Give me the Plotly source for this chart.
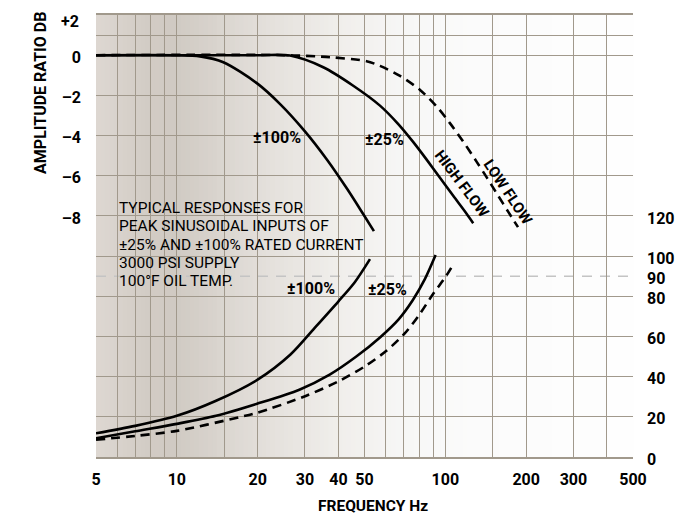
import plotly.graph_objects as go

# ------------------------------------------------------
# data (frequency in Hz)
# ------------------------------------------------------

# amplitude ratio, dB (left axis)
amp_100_freq = [5, 10, 12.2, 14.9, 19.8, 24.2, 30, 36.2, 43, 49.5, 54.2]
amp_100_db = [0, 0, -0.06, -0.35, -1.38, -2.42, -3.79, -5.19, -6.64, -7.92, -8.76]

amp_25_freq = [5, 20, 26.4, 35.1, 45.4, 57.1, 66.8, 76, 85.2, 95.5, 107, 120, 127]
amp_25_db = [0, 0, -0.02, -0.6, -1.52, -2.51, -3.43, -4.33, -5.2, -6.1, -7.0, -7.89, -8.36]

amp_low_freq = [5, 25, 37.2, 50.9, 57.1, 67.8, 80.5, 92.9, 104, 116.7, 130.9, 142.6, 157.4, 171.6, 186.5]
amp_low_db = [0, 0, -0.1, -0.3, -0.53, -1.03, -1.73, -2.56, -3.38, -4.31, -5.31, -6.08, -7.0, -7.8, -8.56]

# phase lag, degrees (right axis)
phase_100_freq = [5, 7, 10, 14, 20, 26.5, 33, 40, 46, 52.4]
phase_100_deg = [11.8, 15.5, 20.5, 28, 38.5, 51, 65, 77.5, 87, 98.5]

phase_25_freq = [5, 7, 10, 14, 19.9, 28.6, 37.1, 46.6, 57.1, 67, 75.6, 83.9, 92]
phase_25_deg = [9.3, 12.8, 16.5, 20.5, 26.5, 33.5, 41, 50, 59.5, 68.5, 78, 88.5, 100.5]

phase_low_freq = [5, 7, 10, 17.2, 19.9, 29.7, 39.8, 50, 60.5, 70.6, 79.7, 89.9, 100.6, 107.7]
phase_low_deg = [8.6, 10.5, 13, 19.9, 22, 30, 37.5, 45, 53, 61.5, 70.5, 81, 90, 96.5]

phase_ref = 90

# axis ticks
freq_ticks = [5, 6, 7, 8, 9, 10, 15, 20, 30, 40, 50, 60, 70, 80, 90, 100, 150, 200, 300, 400, 500]
freq_labels = ["5", "", "", "", "", "10", "", "20", "30", "40", "50", "", "", "", "", "100", "", "200", "300", "", "500"]
db_ticks = [2, 1, 0, -2, -4, -6, -8, -10, -12, -14, -16, -18]
db_labels = ["", "", "0", "–2", "–4", "–6", "–8", "", "", "", "", ""]
db_top, db_top_label = 2, "+2"   # top label sits on the plot edge, drawn as annotation
phase_ticks = [0, 20, 40, 60, 80, 90, 100, 120]
phase_labels = ["0", "20", "40", "60", "80", "90", "100", "120"]

# ------------------------------------------------------
# figure
# ------------------------------------------------------

FONT = "Roboto, Liberation Sans, sans-serif"
GRID = "#a1998c"
LW = 2.6
DASH = "9px,6px"

fig = go.Figure()

def curve(xs, ys, axis="y", dash=None):
    fig.add_trace(go.Scatter(x=xs, y=ys, yaxis=axis, mode="lines",
                             line=dict(color="black", width=LW, dash=dash, shape="spline", smoothing=0.8)))

curve(amp_100_freq, amp_100_db)
curve(amp_low_freq, amp_low_db, dash=DASH)
curve(amp_25_freq, amp_25_db)
curve(phase_100_freq, phase_100_deg, "y2")
curve(phase_25_freq, phase_25_deg, "y2")
curve(phase_low_freq, phase_low_deg, "y2", DASH)

# background fade, dark at the left to white at the right
stops = [(0.0, (221, 216, 210)), (0.1, (210, 203, 196)), (0.15, (208, 202, 195)),
         (0.3, (226, 222, 217)), (0.45, (240, 238, 235)), (0.58, (247, 247, 246)),
         (0.7, (251, 251, 251)), (1.0, (254, 254, 254))]
N = 120
shapes = []
for i in range(N):
    t = (i + 0.5) / N
    for (a, ca), (b, cb) in zip(stops[:-1], stops[1:]):
        if a <= t <= b:
            f = (t - a) / (b - a)
            c = [round(ca[k] + (cb[k] - ca[k]) * f) for k in range(3)]
            break
    shapes.append(dict(type="rect", xref="paper", yref="paper", x0=i / N, x1=(i + 1) / N + 0.002,
                       y0=0, y1=1, fillcolor="rgb(%d,%d,%d)" % tuple(c), line=dict(width=0), layer="below"))

shapes.append(dict(type="line", xref="paper", yref="y2", x0=0, x1=1, y0=phase_ref, y1=phase_ref,
                   line=dict(color="#c4c4c4", width=1.5, dash="10px,8px"), layer="below"))

ann = []
def txt(x, y, s, size=16, bold=True, angle=0, xanchor="center"):
    ann.append(dict(x=x, y=y, xref="x", yref="y", text=s, showarrow=False,
                    textangle=angle, xanchor=xanchor, yanchor="middle",
                    font=dict(family=FONT, size=size, color="black", weight=700 if bold else 400)))

txt(1.373, -4.1, "±100%")
txt(1.772, -4.2, "±25%")
txt(1.500, -11.6, "±100%")
txt(1.785, -11.65, "±25%")
txt(2.062, -6.42, "HIGH FLOW", size=15, angle=53)
txt(2.233, -6.8, "LOW FLOW", size=15, angle=56)

notes = ["TYPICAL RESPONSES FOR", "PEAK SINUSOIDAL INPUTS OF", "±25% AND ±100% RATED CURRENT",
         "3000 PSI SUPPLY", "100°F OIL TEMP."]
for i, s in enumerate(notes):
    txt(0.776, -7.61 - i * 0.91, s, size=15.5, bold=False, xanchor="left")

ann.append(dict(x=-0.028, y=db_top, xref="paper", yref="y", text=db_top_label, showarrow=False,
                xanchor="right", yanchor="middle", yshift=-6,
                font=dict(family=FONT, size=16, color="black", weight=700)))
ann.append(dict(x=-0.103, y=0.823, xref="paper", yref="paper", text="AMPLITUDE RATIO DB", showarrow=False,
                textangle=-90, xanchor="center", yanchor="middle",
                font=dict(family=FONT, size=16, color="black", weight=700)))
ann.append(dict(x=0.516, y=-0.110, xref="paper", yref="paper", text="FREQUENCY Hz", showarrow=False,
                xanchor="center", yanchor="middle",
                font=dict(family=FONT, size=15.5, color="black", weight=700)))

tick_font = dict(family=FONT, size=16, color="black", weight=700)

# the page body adds an 8px margin, so the figure is 8px smaller each way
fig.update_layout(
    width=682, height=510,
    margin=dict(l=88, r=57, t=5, b=61),
    paper_bgcolor="white", plot_bgcolor="white",
    showlegend=False,
    shapes=shapes, annotations=ann,
    xaxis=dict(type="log", range=[0.69897, 2.69897], tickvals=freq_ticks, ticktext=freq_labels,
               showgrid=True, gridcolor=GRID, gridwidth=1.4, showline=True, linecolor=GRID, linewidth=2,
               mirror=True, ticks="", zeroline=False, ticklabelstandoff=7, tickfont=tick_font),
    yaxis=dict(range=[-20, 2], tickvals=db_ticks, ticktext=db_labels, showgrid=True, gridcolor=GRID,
               gridwidth=1.4, showline=False, zeroline=False, ticks="", ticklabelstandoff=14, ticklabelshift=2,
               tickfont=tick_font),
    yaxis2=dict(range=[0, 220], overlaying="y", side="right", tickvals=phase_ticks, ticktext=phase_labels,
                showgrid=False, zeroline=False, ticks="", ticklabelstandoff=13, ticklabelshift=2,
                tickfont=tick_font),
)

fig.write_html("out.html")
